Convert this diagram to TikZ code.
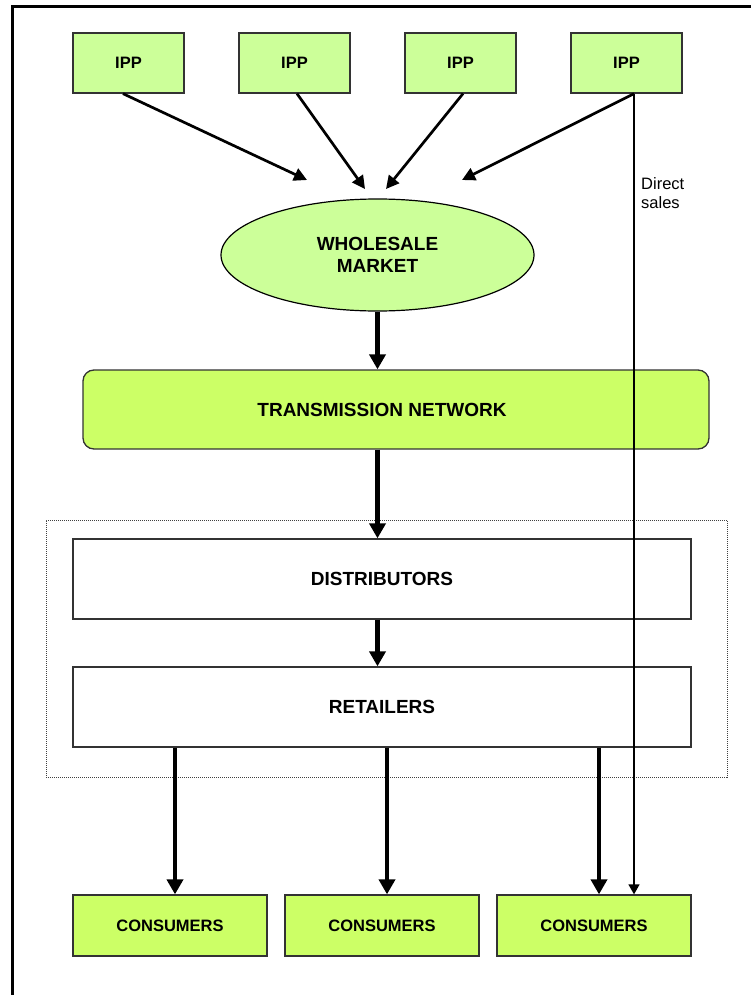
\documentclass[tikz,border=0pt]{standalone}
\usepackage{fontspec}
\setmainfont{Liberation Sans}
\usetikzlibrary{shapes.geometric,arrows.meta}
\definecolor{lgreen}{HTML}{CCFF99}
\definecolor{ygreen}{HTML}{CCFF66}
\definecolor{bord}{HTML}{333333}
\begin{document}
\begin{tikzpicture}[x=1pt,y=-1pt,
  box/.style={draw=bord,line width=1.3pt,rectangle,inner sep=0pt},
  small/.style={font=\fontsize{16.5}{19}\selectfont\bfseries},
  big/.style={font=\fontsize{19}{22.5}\selectfont\bfseries},
  ippbox/.style={box,small,fill=lgreen,minimum width=111pt,minimum height=60pt},
  consbox/.style={box,small,fill=ygreen,minimum width=194pt,minimum height=61pt},
  whitebox/.style={box,big,fill=white,minimum width=618pt,minimum height=80pt},
  thick arrow/.style={line width=4.5pt,-{Triangle[length=15pt,width=16pt]}},
  mid arrow/.style={line width=2.7pt,-{Triangle[length=13pt,width=13pt]}},
  thin arrow/.style={line width=1.3pt,-{Triangle[length=10pt,width=11pt]}}
]
\useasboundingbox (0,0) rectangle (750,995);
% outer frame
\draw[line width=3pt] (12,1000) -- (12,7) -- (755,7);

% IPP boxes
\node[ippbox] (ipp1) at (128.5,63) {IPP};
\node[ippbox] (ipp2) at (294.5,63) {IPP};
\node[ippbox] (ipp3) at (460.5,63) {IPP};
\node[ippbox] (ipp4) at (626.5,63) {IPP};

% wholesale market
\node[ellipse,draw=black,line width=1.2pt,fill=lgreen,big,align=center,
      minimum width=313pt,minimum height=112pt,inner sep=0pt] (wm) at (377.5,255)
      {WHOLESALE\\MARKET};

% transmission network
\node[box,fill=ygreen,rounded corners=11pt,minimum width=626pt,minimum height=79pt] (tn) at (396,409.5) {};
\node[big] (tnt) at (382,410) {TRANSMISSION NETWORK};

% dotted region
\node[draw=black!75,line width=1pt,dash pattern=on 1pt off 1pt,minimum width=681pt,minimum height=257pt,inner sep=0pt] (reg) at (386.5,648.5) {};

% distributors and retailers
\node[whitebox] (dist) at (382,579) {DISTRIBUTORS};
\node[whitebox] (ret) at (382,707) {RETAILERS};

% consumers
\node[consbox] (c1) at (170,925.5) {CONSUMERS};
\node[consbox] (c2) at (382,925.5) {CONSUMERS};
\node[consbox] (c3) at (594,925.5) {CONSUMERS};

% IPP -> wholesale market
\coordinate (t1) at (307,180);
\coordinate (t2) at (365,189);
\coordinate (t3) at (386,189);
\coordinate (t4) at (462,180);
\draw[mid arrow] ([xshift=-5.5pt]ipp1.south) -- (t1);
\draw[mid arrow] ([xshift=2.5pt]ipp2.south) -- (t2);
\draw[mid arrow] ([xshift=2.5pt]ipp3.south) -- (t3);
\draw[mid arrow] ([xshift=7.5pt]ipp4.south) -- (t4);

% main flow
\draw[thick arrow] (wm.south) -- (wm.south |- tn.north);
\draw[thick arrow] (wm.south |- tn.south) -- (wm.south |- dist.north);
\draw[thick arrow] (wm.south |- dist.south) -- (wm.south |- ret.north);
\draw[thick arrow] ([xshift=5pt]c1.north |- ret.south) -- ([xshift=5pt]c1.north);
\draw[thick arrow] ([xshift=5pt]c2.north |- ret.south) -- ([xshift=5pt]c2.north);
\draw[thick arrow] ([xshift=5pt]c3.north |- ret.south) -- ([xshift=5pt]c3.north);

% direct sales
\draw[thin arrow] ([xshift=7.5pt]ipp4.south) -- ([xshift=7.5pt]ipp4.south |- c3.north);
\node[anchor=west,align=left,font=\fontsize{16.5}{19}\selectfont,inner sep=0pt] (ds) at (641,193) {Direct\\sales};
\end{tikzpicture}
\end{document}
